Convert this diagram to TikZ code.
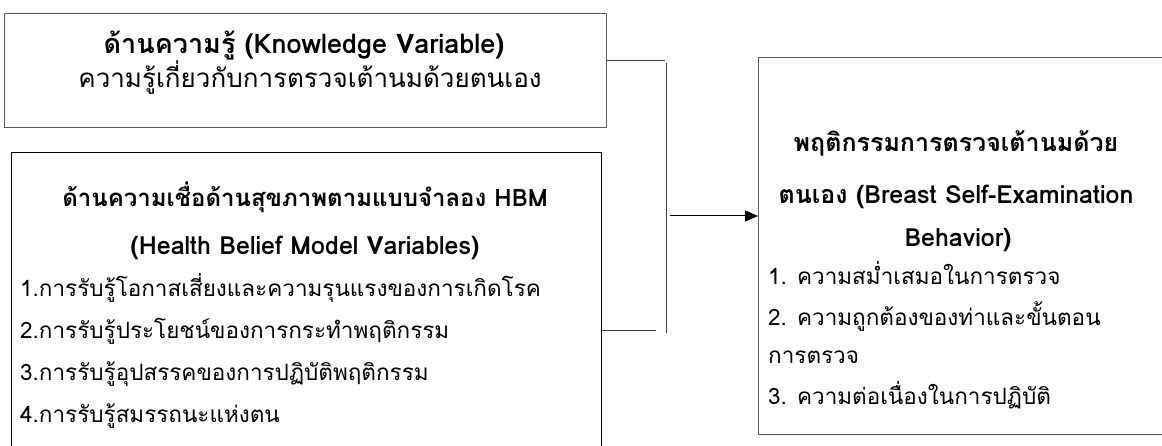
\documentclass[tikz,border=0pt]{standalone}
\usepackage{fontspec}
\setmainfont[Script=Thai]{Loma}
\usetikzlibrary{arrows.meta}
\begin{document}
\begin{tikzpicture}[x=1pt,y=-1pt,
  box/.style={draw=#1, line width=1pt, anchor=north west, inner sep=0pt},
  txt/.style={anchor=base, inner sep=0pt, font=\fontsize{22.5}{27}\selectfont},
  ltxt/.style={txt, anchor=base west},
  btxt/.style={anchor=base, inner sep=0pt, font=\fontsize{#1}{30}\selectfont\bfseries},
  conn/.style={draw=black!75, line width=1pt},
  arr/.style={draw=black, line width=1pt, -{Triangle[length=13pt,width=11pt]}}]
\useasboundingbox (0,0) rectangle (1162,446);
% boxes
\node[box=black!65, minimum width=602pt, minimum height=114pt] (k) at (4,13) {};
\node[box=black, minimum width=590pt, minimum height=320pt] (h) at (11,152) {};
\node[box=black!65, minimum width=440pt, minimum height=377pt] (b) at (758,57) {};
% box 1 text
\node[btxt=27] (k1) at (304,54) {ด้านความรู้ (Knowledge Variable)};
\node[txt, font=\fontsize{26}{30}\selectfont] (k2) at (310,88) {ความรู้เกี่ยวกับการตรวจเต้านมด้วยตนเอง};
% box 2 text
\node[btxt=24] (h1) at (305,207) {ด้านความเชื่อด้านสุขภาพตามแบบจำลอง HBM};
\node[btxt=25] (h2) at (305,255) {(Health Belief Model Variables)};
\node[ltxt] (h3) at (20,297) {1.การรับรู้โอกาสเสี่ยงและความรุนแรงของการเกิดโรค};
\node[ltxt] (h4) at (20,338) {2.การรับรู้ประโยชน์ของการกระทำพฤติกรรม};
\node[ltxt] (h5) at (20,380) {3.การรับรู้อุปสรรคของการปฏิบัติพฤติกรรม};
\node[ltxt] (h6) at (20,422) {4.การรับรู้สมรรถนะแห่งตน};
% box 3 text
\node[btxt=25] (b1) at (956,152) {พฤติกรรมการตรวจเต้านมด้วย};
\node[btxt=25] (b2) at (956,204) {ตนเอง (Breast Self-Examination};
\node[btxt=25] (b3) at (958,247) {Behavior)};
\node[ltxt] (b4) at (768,285) {1. ความสม่ำเสมอในการตรวจ};
\node[ltxt] (b5) at (768,326) {2. ความถูกต้องของท่าและขั้นตอน};
\node[ltxt] (b6) at (768,363) {การตรวจ};
\node[ltxt] (b7) at (768,404) {3. ความต่อเนื่องในการปฏิบัติ};
% connectors
\coordinate (j1) at (665,61);
\coordinate (j2) at (666,63);
\coordinate (j3) at (666,333);
\coordinate (j4) at (656,331);
\coordinate (j5) at (670,216);
\draw[conn] (k.east |- j1) -- (j1);
\draw[conn] (j2) -- (j3);
\draw[conn] (h.east |- j4) -- (j4);
\draw[arr] (j5) -- (b.west |- j5);
\end{tikzpicture}
\end{document}
